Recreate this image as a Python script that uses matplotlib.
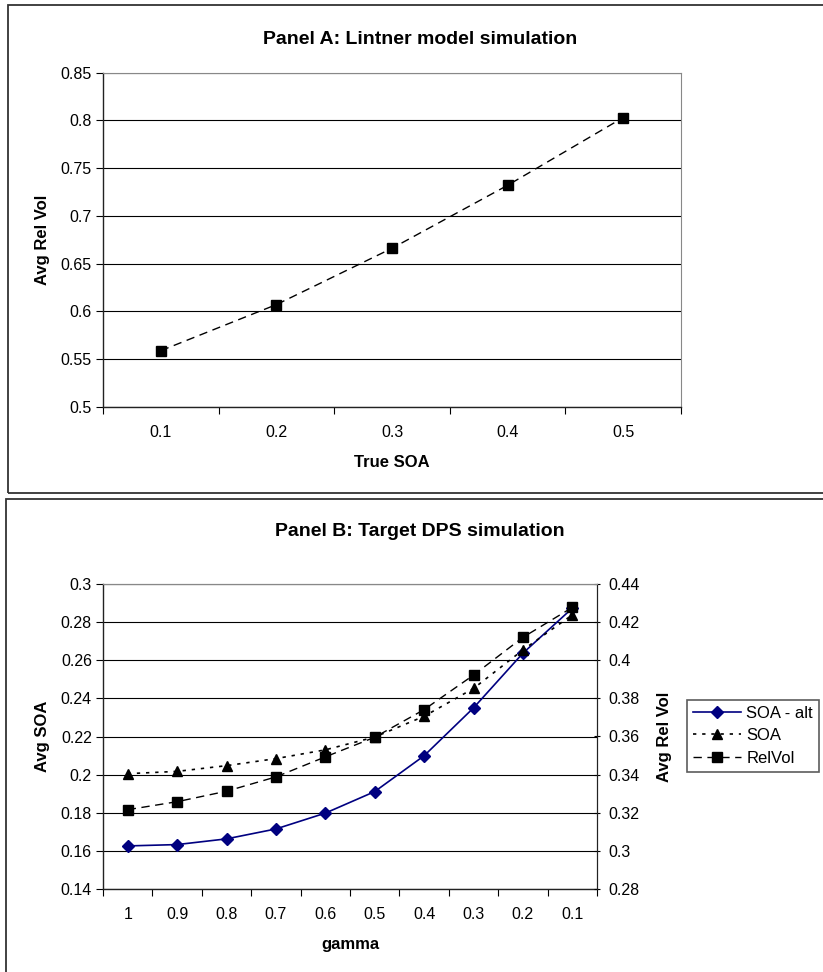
import matplotlib
matplotlib.use("Agg")
import matplotlib.pyplot as plt
from matplotlib.patches import Rectangle
from matplotlib.ticker import FuncFormatter
import numpy as np

plt.rcParams['font.family'] = ['Liberation Sans', 'DejaVu Sans']

# ---- Panel A data ----
true_soa = ["0.1", "0.2", "0.3", "0.4", "0.5"]
avg_rel_vol_a = [0.5587, 0.607, 0.666, 0.732, 0.803]

# ---- Panel B data ----
gamma = ["1", "0.9", "0.8", "0.7", "0.6", "0.5", "0.4", "0.3", "0.2", "0.1"]
soa_alt = [0.1626, 0.1633, 0.1663, 0.1715, 0.1798, 0.1911, 0.2099, 0.235, 0.2637, 0.2873]
soa = [0.2005, 0.2017, 0.2047, 0.2084, 0.213, 0.2197, 0.2306, 0.2452, 0.2654, 0.2838]
relvol = [0.3216, 0.3258, 0.3313, 0.3388, 0.3493, 0.3596, 0.3741, 0.3922, 0.412, 0.4277]

W, H = 823, 972
fig = plt.figure(figsize=(W / 100, H / 100), dpi=100)

def fx(px):
    return px / W

def fy(py):
    return 1 - py / H

# panel frames
fig.add_artist(Rectangle((fx(8), fy(493)), fx(830) - fx(8), fy(5) - fy(493),
                         transform=fig.transFigure, fill=False, ec='#333333', lw=1.3))
fig.add_artist(Rectangle((fx(6), fy(1000)), fx(830) - fx(6), fy(499) - fy(1000),
                         transform=fig.transFigure, fill=False, ec='#333333', lw=1.3))

fmt = FuncFormatter(lambda v, p: '{:g}'.format(round(v, 4)))
TICK_FS = 11.5
LAB_FS = 12
TITLE_FS = 14

def style_cat_axis(ax, n):
    ax.set_xlim(-0.5, n - 0.5)
    ax.set_xticks(np.arange(n + 1) - 0.5, minor=True)
    ax.tick_params(axis='x', which='major', length=0, pad=13, labelsize=TICK_FS)
    ax.tick_params(axis='x', which='minor', length=5, width=0.8, direction='out', color='black')
    ax.tick_params(axis='y', which='major', length=5, width=0.8, direction='out', labelsize=TICK_FS, pad=3)
    ax.grid(axis='y', color='black', lw=0.8)
    ax.set_axisbelow(True)
    ax.spines['top'].set_color('#888888')
    ax.spines['right'].set_color('#888888')
    for s in ['left', 'bottom']:
        ax.spines[s].set_color('#222222')
        ax.spines[s].set_linewidth(1.0)
    ax.yaxis.set_major_formatter(fmt)

# ---- Panel A ----
axA = fig.add_axes([fx(103), fy(406.7), fx(681) - fx(103), fy(72.7) - fy(406.7)])
xa = np.arange(len(true_soa))
axA.plot(xa, avg_rel_vol_a, color='black', ls=(0, (6, 4)), lw=1.0,
         marker='s', ms=7, mfc='black', mec='black')
axA.set_ylim(0.5, 0.85)
axA.set_yticks(np.arange(0.5, 0.8501, 0.05))
axA.set_xticks(xa)
axA.set_xticklabels(true_soa)
style_cat_axis(axA, len(true_soa))
axA.set_xlabel('True SOA', fontsize=LAB_FS, fontweight='bold', labelpad=11)
axA.set_ylabel('Avg Rel Vol', fontsize=LAB_FS, fontweight='bold', labelpad=8)
fig.text(fx(420), fy(39), 'Panel A: Lintner model simulation', ha='center', va='center',
         fontsize=TITLE_FS, fontweight='bold')

# ---- Panel B ----
axB = fig.add_axes([fx(103), fy(889), fx(597) - fx(103), fy(584) - fy(889)])
xb = np.arange(len(gamma))
axB2 = axB.twinx()
l1, = axB.plot(xb, soa_alt, color='#000080', lw=1.2, marker='D', ms=6,
               mfc='#000080', mec='#000080', label='SOA - alt')
l2, = axB.plot(xb, soa, color='black', ls=(0, (2, 3.5)), lw=1.2, marker='^', ms=7,
               mfc='black', mec='black', label='SOA')
l3, = axB2.plot(xb, relvol, color='black', ls=(0, (6, 4)), lw=1.0, marker='s', ms=7,
                mfc='black', mec='black', label='RelVol')
axB.set_ylim(0.14, 0.30)
axB.set_yticks(np.arange(0.14, 0.3001, 0.02))
axB2.set_ylim(0.28, 0.44)
axB2.set_yticks(np.arange(0.28, 0.4401, 0.02))
axB.set_xticks(xb)
axB.set_xticklabels(gamma)
style_cat_axis(axB, len(gamma))
axB.spines['right'].set_color('#222222')
axB2.spines['right'].set_color('#222222')
axB2.spines['top'].set_color('#888888')
axB2.spines['left'].set_visible(False)
axB2.spines['bottom'].set_visible(False)
axB2.tick_params(axis='y', length=5, width=0.8, direction='inout', labelsize=TICK_FS, pad=6)
axB2.yaxis.set_major_formatter(fmt)
axB.set_zorder(axB2.get_zorder() - 1)
axB2.patch.set_visible(False)
axB.set_xlabel('gamma', fontsize=LAB_FS, fontweight='bold', labelpad=11)
axB.set_ylabel('Avg SOA', fontsize=LAB_FS, fontweight='bold', labelpad=8)
axB2.set_ylabel('Avg Rel Vol', fontsize=LAB_FS, fontweight='bold', labelpad=12)
fig.text(fx(420), fy(532), 'Panel B: Target DPS simulation', ha='center', va='center',
         fontsize=TITLE_FS, fontweight='bold')

leg = fig.legend(handles=[l1, l2, l3], loc='upper left',
                 bbox_to_anchor=(fx(687), fy(700)), bbox_transform=fig.transFigure,
                 frameon=True, fancybox=False, fontsize=12, handlelength=2.9,
                 borderpad=0.35, labelspacing=0.45, handletextpad=0.3, borderaxespad=0)
leg.get_frame().set_edgecolor('#333333')
leg.get_frame().set_linewidth(1.2)

fig.savefig('out.png', dpi=100)
